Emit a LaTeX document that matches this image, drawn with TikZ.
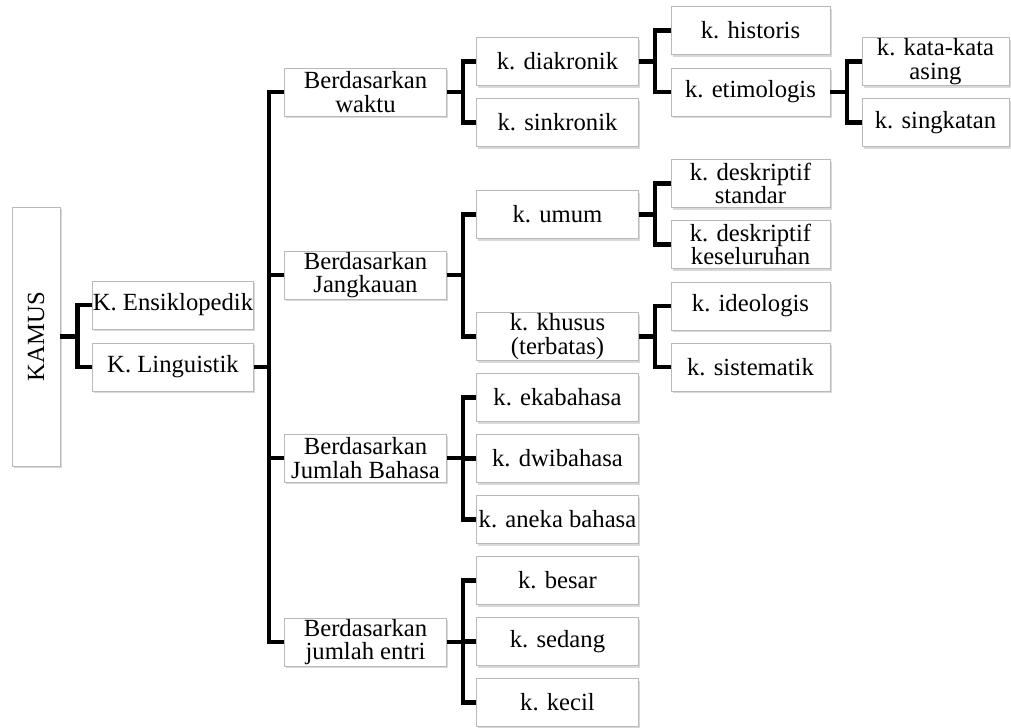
\documentclass[tikz,border=0pt]{standalone}
\usepackage{fontspec}
\setmainfont{Liberation Serif}
\usetikzlibrary{positioning,shadows,calc}

\begin{document}
\begin{tikzpicture}[x=0.75pt,y=-0.75pt,
  kbox/.style={draw=gray!55,line width=0.6pt,fill=white,align=center,inner sep=0pt,
    font=\fontsize{18.5}{17.8}\selectfont,
    drop shadow={shadow xshift=1.2pt,shadow yshift=-1.5pt,opacity=0.3},
    minimum width=121pt,minimum height=36pt},
  kboxd/.style={kbox,minimum width=119.25pt},
  kboxe/.style={kbox,minimum width=110.25pt},
  link/.style={line width=3.4pt}]
\useasboundingbox (0,0) rectangle (1011,728);
% root and first level
\node[kbox,minimum width=36pt,minimum height=194.25pt] (kamus) at (36,336.5) {\rotatebox{90}{KAMUS}};
\node[kbox] (ensiklo) at (173,305) {K. Ensiklopedik};
\node[kbox] (linguis) at (173,367) {K. Linguistik};
% Berdasarkan ...
\node[kbox] (waktu) at (365.5,92) {Berdasarkan\\waktu};
\node[kbox] (jangkau) at (365.5,275) {Berdasarkan\\Jangkauan};
\node[kbox] (jmlbhs) at (365.5,458) {Berdasarkan\\Jumlah Bahasa};
\node[kbox] (jmlentri) at (365.5,642) {Berdasarkan\\jumlah entri};
% third level
\node[kbox] (diakron) at (557.5,61.5) {k. diakronik};
\node[kbox] (sinkron) at (557.5,122.5) {k. sinkronik};
\node[kbox] (umum) at (557.5,214.5) {k. umum};
\node[kbox] (khusus) at (557.5,336.5) {k. khusus\\(terbatas)};
\node[kbox] (eka) at (557.5,397.5) {k. ekabahasa};
\node[kbox] (dwi) at (557.5,458.5) {k. dwibahasa};
\node[kbox] (aneka) at (557.5,519.5) {k. aneka bahasa};
\node[kbox] (besar) at (557.5,580.5) {k. besar};
\node[kbox] (sedang) at (557.5,641.5) {k. sedang};
\node[kbox] (kecil) at (557.5,702.5) {k. kecil};
% fourth level
\node[kboxd] (historis) at (750.5,30.5) {k. historis};
\node[kboxd] (etimo) at (750.5,92) {k. etimologis};
\node[kboxd] (deskstd) at (750.5,183.5) {k. deskriptif\\standar};
\node[kboxd] (deskall) at (750.5,244.5) {k. deskriptif\\keseluruhan};
\node[kboxd] (ideo) at (750.5,306) {k. ideologis};
\node[kboxd] (sistem) at (750.5,367) {k. sistematik};
% fifth level
\node[kboxe] (asing) at (935.5,61.5) {k. kata-kata\\asing};
\node[kboxe] (singkat) at (935.5,122.5) {k. singkatan};

% connectors
\coordinate (fkamus) at ($(kamus.east)+(17,0)$);
\draw[link] (kamus.east) -- (fkamus);
\foreach \c in {ensiklo,linguis} \draw[link] (fkamus) |- (\c.west);
\coordinate (trunk) at ($(linguis.east)+(15,0)$);
\draw[link] (linguis.east) -- (trunk);
\foreach \c in {waktu,jangkau,jmlbhs,jmlentri} \draw[link] (trunk) |- (\c.west);
\foreach \p/\kids in {waktu/{diakron,sinkron},jangkau/{umum,khusus},
    jmlbhs/{eka,dwi,aneka},jmlentri/{besar,sedang,kecil},
    diakron/{historis,etimo},umum/{deskstd,deskall},khusus/{ideo,sistem},
    etimo/{asing,singkat}} {
  \coordinate (f\p) at ($(\p.east)+(16.5,0)$);
  \draw[link] (\p.east) -- (f\p);
  \foreach \c in \kids \draw[link] (f\p) |- (\c.west);
}
\end{tikzpicture}
\end{document}
